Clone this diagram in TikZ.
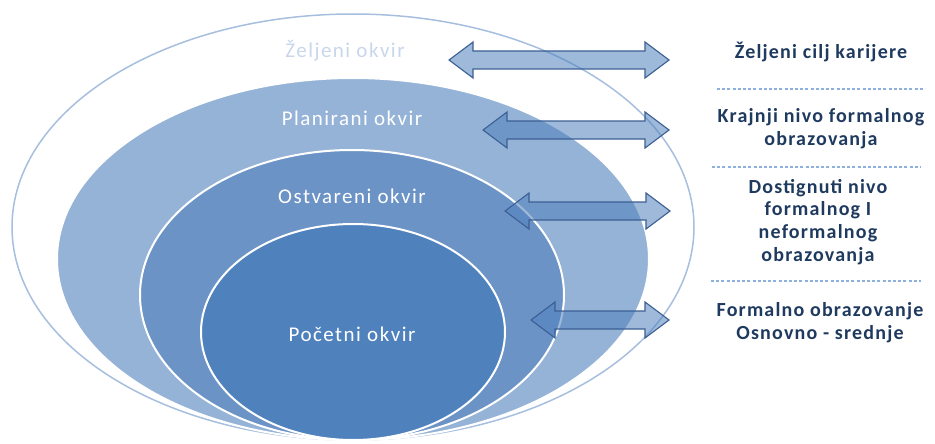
\documentclass[tikz,border=0pt]{standalone}
\usepackage{fontspec}
\setmainfont{Carlito}
\newfontfamily\labelfont[LetterSpace=7]{Carlito}
\newfontfamily\goalfont[LetterSpace=6]{Carlito}
\usetikzlibrary{calc}
\definecolor{ringA}{HTML}{95B3D7}
\definecolor{ringB}{HTML}{6C93C6}
\definecolor{ringC}{HTML}{4F81BD}
\definecolor{rimline}{HTML}{A7BFDE}
\definecolor{arrowfill}{HTML}{4F81BD}
\definecolor{arrowline}{HTML}{3C5F94}
\definecolor{navy}{HTML}{1F3A5F}
\definecolor{sepline}{HTML}{8EB0DC}
\definecolor{ghost}{HTML}{C9D7EC}
\tikzset{
  ring/.style={draw=white, line width=2pt},
  ringlabel/.style={text=white, font=\labelfont\fontsize{21}{24}\selectfont, inner sep=0pt},
  blockarrow/.style={draw=arrowline, line width=1.1pt, line join=miter,
    fill=arrowfill, fill opacity=0.55, draw opacity=1},
  goal/.style={text=navy, align=center, inner sep=0pt,
    font=\goalfont\bfseries\fontsize{20}{22.8}\selectfont},
  separator/.style={draw=sepline, line width=1.2pt, dash pattern=on 3pt off 2.2pt}
}
% two-way block arrow between two named tips: head length 24, head half-height 18, shaft half-height 9
\newcommand\twoway[2]{%
  \draw[blockarrow] let \p1=(#1), \p2=(#2) in
    (\x1,\y1) -- (\x1+24pt,\y1+18pt) -- (\x1+24pt,\y1+9pt) -- (\x2-24pt,\y1+9pt)
    -- (\x2-24pt,\y1+18pt) -- (\x2,\y1) -- (\x2-24pt,\y1-18pt) -- (\x2-24pt,\y1-9pt)
    -- (\x1+24pt,\y1-9pt) -- (\x1+24pt,\y1-18pt) -- cycle;}
\begin{document}
\begin{tikzpicture}[x=1pt, y=-1pt]
\useasboundingbox (0,0) rectangle (935,444);

% nested frames, from the outermost inwards
\draw[draw=rimline, line width=1.5pt, fill=white] (353,227) ellipse [x radius=341, y radius=213];
\draw[ring, fill=ringA] (353,259) ellipse [x radius=296, y radius=181];
\draw[ring, fill=ringB] (352,295) ellipse [x radius=212, y radius=145];
\draw[ring, fill=ringC] (353,332) ellipse [x radius=152, y radius=108];

% frame labels
\node[ringlabel, text=ghost] (zeljeni) at (345,51) {Željeni okvir};
\node[ringlabel] (planirani) at (352,118) {Planirani okvir};
\node[ringlabel] (ostvareni) at (352,196) {Ostvareni okvir};
\node[ringlabel] (pocetni) at (352,334) {Početni okvir};

% arrow tips
\coordinate (a1l) at (449,60);  \coordinate (a1r) at (669,60);
\coordinate (a2l) at (483,130); \coordinate (a2r) at (669,130);
\coordinate (a3l) at (505,211); \coordinate (a3r) at (670,211);
\coordinate (a4l) at (531,320); \coordinate (a4r) at (669,320);
\twoway{a1l}{a1r}
\twoway{a2l}{a2r}
\twoway{a3l}{a3r}
\twoway{a4l}{a4r}

% career levels
\node[goal] (g1) at (821,52) {Željeni cilj karijere};
\node[goal] (g2) at (821,129) {Krajnji nivo formalnog\\obrazovanja};
\node[goal] (g3) at (818,222) {Dostignuti nivo\\formalnog I\\neformalnog\\obrazovanja};
\node[goal] (g4) at (820,323) {Formalno obrazovanje\\Osnovno - srednje};

% separators between levels
\coordinate (s1a) at (717,89);  \coordinate (s1b) at (925,89);
\coordinate (s2a) at (712,167); \coordinate (s2b) at (921,167);
\coordinate (s3a) at (711,281); \coordinate (s3b) at (921,281);
\draw[separator] (s1a) -- (s1b);
\draw[separator] (s2a) -- (s2b);
\draw[separator] (s3a) -- (s3b);
\end{tikzpicture}
\end{document}
